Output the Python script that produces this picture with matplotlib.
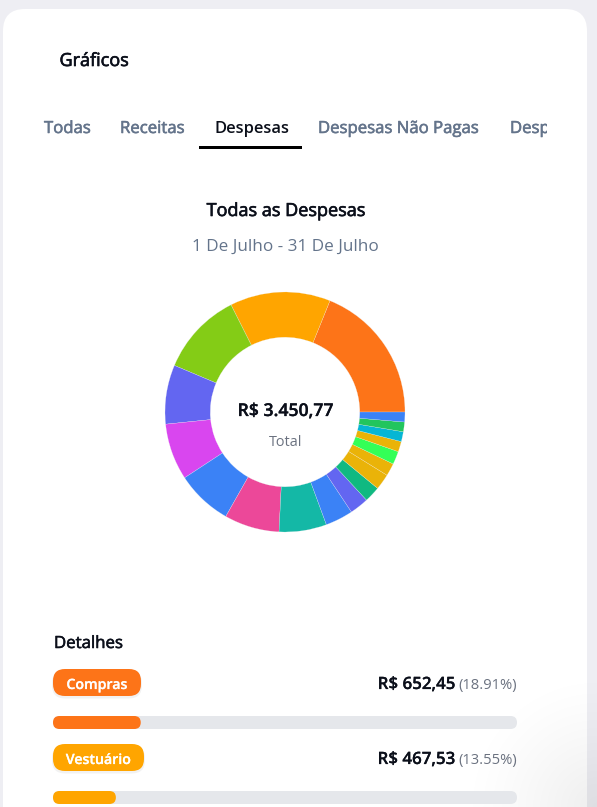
import matplotlib
matplotlib.use("Agg")
import matplotlib.pyplot as plt
import matplotlib.patheffects as pe
import numpy as np
from matplotlib.patches import FancyBboxPatch, Rectangle

plt.rcParams['font.family'] = ['Open Sans', 'Noto Sans', 'DejaVu Sans']

# ---- data ----
tabs = ["Todas", "Receitas", "Despesas", "Despesas Não Pagas", "Desp"]
slice_values = [652.45, 467.53, 388, 275, 263, 261, 256, 221, 129, 88, 74, 74, 59, 61, 48, 46, 45, 46]
slice_colors = ["#FD7418", "#FFA500", "#84CC16", "#6366F1", "#D946EF", "#3B82F6", "#EC4899",
                "#14B8A6", "#3B82F6", "#6366F1", "#10B981", "#EAB308", "#EAB308", "#33FF57",
                "#EAB308", "#06B6D4", "#22C55E", "#3B82F6"]
detail_names = ["Compras", "Vestuário"]
detail_amounts = ["R$ 652,45", "R$ 467,53"]
detail_pcts = [18.91, 13.55]
detail_colors = ["#FD7418", "#FFA500"]

W, H = 597, 807
fig = plt.figure(figsize=(W / 100, H / 100), dpi=100, facecolor="#EEEEF3")
ax = fig.add_axes([0, 0, 1, 1])
ax.set_xlim(0, W)
ax.set_ylim(H, 0)
ax.axis("off")

def rbox(x0, y0, x1, y1, r, color, z=1, alpha=None):
    p = FancyBboxPatch((x0 + r, y0 + r), x1 - x0 - 2 * r, y1 - y0 - 2 * r,
                       boxstyle=f"round,pad={r},rounding_size={r}",
                       fc=color, ec="none", zorder=z, mutation_aspect=1, alpha=alpha)
    ax.add_patch(p)
    return p

def T(x, y, s, size, color, weight="normal", ha="left", bold=0.0):
    t = ax.text(x, y, s, fontsize=size, color=color, fontweight=weight, ha=ha, va="baseline", zorder=5)
    if bold:
        t.set_path_effects([pe.withStroke(linewidth=bold, foreground=color)])
    return t

# card
rbox(3, 9, 587, 860, 22, "white", z=0)

# soft corner shade of the page (lower right)
gx, gy = np.meshgrid(np.arange(440, W), np.arange(660, H))
shade = np.clip(1 - np.hypot(W - gx, H - gy) / 140, 0, 1) ** 1.3 * 0.07
rgba = np.zeros(gx.shape + (4,))
rgba[..., 3] = shade
ax.imshow(rgba, extent=(440, W, H, 660), zorder=0.5, aspect="auto", interpolation="bilinear")
ax.set_xlim(0, W)
ax.set_ylim(H, 0)

T(59.5, 66, "Gráficos", 13.0, "#0B0F1A", bold=0.45)

# tabs
tab_x = [44, 120, 214, 318, 510]
for i, (x, s) in enumerate(zip(tab_x, tabs)):
    active = i == 2
    T(x, 133, s, 11.85 if active else 12.05, "#0B0F1A" if active else "#64748B",
      weight=600 if active else "normal", bold=0 if active else 0.4)
# the tab strip ends here and cuts the last tab
ax.add_patch(Rectangle((547, 115), 10, 28, fc="white", ec="none", zorder=6))

ax.add_patch(Rectangle((199, 146), 103, 3, fc="black", ec="none", zorder=3))

T(285.5, 216, "Todas as Despesas", 13, "#0B0F1A", ha="center", bold=0.45)
T(285.5, 251, "1 De Julho - 31 De Julho", 12.35, "#64748B", ha="center")

# donut
cx, cy, R = 285, 412, 120
pie_ax = fig.add_axes([(cx - R) / W, 1 - (cy + R) / H, 2 * R / W, 2 * R / H])
pie_ax.pie(slice_values, colors=slice_colors, startangle=0, counterclock=True, radius=1,
           wedgeprops=dict(width=0.377, edgecolor="#F0F0F0", linewidth=0.15))
pie_ax.set_xlim(-1, 1)
pie_ax.set_ylim(-1, 1)
pie_ax.axis("off")

T(285.5, 416, "R$ 3.450,77", 12.7, "#0B0F1A", weight=600, ha="center", bold=0.2)
T(285.5, 446, "Total", 10.4, "#6B7280", ha="center")

# details
T(54, 648, "Detalhes", 12.1, "#0B0F1A", bold=0.4)
ys = [669, 744]
badge_r = [141, 144]
track_x0, track_x1 = 53, 517
for y, name, amt, pct, col, br in zip(ys, detail_names, detail_amounts, detail_pcts, detail_colors, badge_r):
    rbox(52, y + 1, br + 1, y + 29.5, 13, "#000000", z=1, alpha=0.05)
    rbox(53, y, br, y + 27, 12, col, z=2)
    T((53 + br) / 2, y + 20, name, 10.2, "white", weight=600, ha="center", bold=0.15)
    T(455, y + 20, amt, 12.2, "#0B0F1A", weight=600, ha="right", bold=0.15)
    T(517, y + 20, f"({pct:.2f}%)", 10.6, "#6B7280", ha="right")
    rbox(track_x0, y + 47, track_x1, y + 60, 6.5, "#E5E7EB", z=1)
    rbox(track_x0, y + 47, track_x0 + (track_x1 - track_x0) * pct / 100, y + 60, 6.5, col, z=2)

fig.savefig("out.png", dpi=100, facecolor=fig.get_facecolor())
